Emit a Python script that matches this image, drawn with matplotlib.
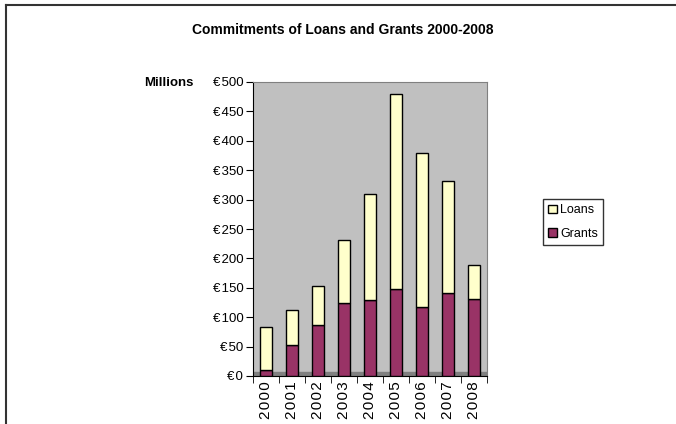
import matplotlib.pyplot as plt
from matplotlib.lines import Line2D

plt.rcParams['font.family'] = ['Liberation Sans', 'DejaVu Sans']

# data (millions of euro)
years = ['2000', '2001', '2002', '2003', '2004', '2005', '2006', '2007', '2008']
grants = [11, 53, 86, 124, 130, 148, 118, 141, 131]
totals = [83, 112, 153, 232, 309, 480, 380, 332, 188]
loans = [t - g for t, g in zip(totals, grants)]
yticks = [0, 50, 100, 150, 200, 250, 300, 350, 400, 450, 500]

W, H = 676, 424
fig = plt.figure(figsize=(W / 100, H / 100), dpi=100)

# axes placed in pixel coordinates
x0, x1, ytop, ybot = 253, 487, 82, 376
ax = fig.add_axes([x0 / W, 1 - ybot / H, (x1 - x0) / W, (ybot - ytop) / H])
ax.set_facecolor('#C0C0C0')

pos = list(range(len(years)))
ax.axhspan(0, 7, color='#808080', zorder=1)
ax.bar(pos, grants, width=0.45, color='#993366', edgecolor='black', linewidth=1, zorder=3, label='Grants')
ax.bar(pos, loans, bottom=grants, width=0.45, color='#FFFFCC', edgecolor='black', linewidth=1, zorder=3, label='Loans')

ax.set_xlim(-0.5, len(years) - 0.5)
ax.set_ylim(0, 500)
ax.set_yticks(yticks)
ax.set_yticklabels(['€\u200a' + str(v) for v in yticks], fontsize=9.5)
ax.set_xticks(pos)
ax.set_xticklabels([' '.join(list(y)).replace(' ', '\u200a') for y in years], rotation=90, fontsize=11)
ax.tick_params(axis='x', length=0, pad=4)
ax.set_xticks([p + 0.5 for p in [-1] + pos], minor=True)
ax.tick_params(axis='x', which='minor', length=5, direction='out')
ax.tick_params(axis='y', length=5, direction='out', pad=2)

for s in ['top', 'right']:
    ax.spines[s].set_color('#808080')
ax.spines['left'].set_color('black')
ax.spines['bottom'].set_color('black')

fig.text(343 / W, 1 - 30 / H, 'Commitments of Loans and Grants 2000-2008',
         ha='center', va='center', fontsize=10, fontweight='bold')
fig.text(169 / W, 1 - 83 / H, 'Millions', ha='center', va='center',
         fontsize=9.5, fontweight='bold')

handles = [plt.Rectangle((0, 0), 1, 1, facecolor='#FFFFCC', edgecolor='black'),
           plt.Rectangle((0, 0), 1, 1, facecolor='#993366', edgecolor='black')]
leg = fig.legend(handles, ['Loans', 'Grants'], loc='center', bbox_to_anchor=(573 / W, 1 - 222 / H),
                 fontsize=9, frameon=True, fancybox=False, edgecolor='black',
                 handlelength=0.7, handleheight=0.7, handletextpad=0.3, borderpad=0.4,
                 labelspacing=0.9, borderaxespad=0)
leg.get_frame().set_linewidth(1)

# chart border (cropped at right and bottom)
fig.add_artist(Line2D([6 / W, 1], [1 - 5 / H, 1 - 5 / H], color='#333333', linewidth=1.5))
fig.add_artist(Line2D([6 / W, 6 / W], [0, 1 - 5 / H], color='#333333', linewidth=1.5))

fig.savefig('out.png', dpi=100)
